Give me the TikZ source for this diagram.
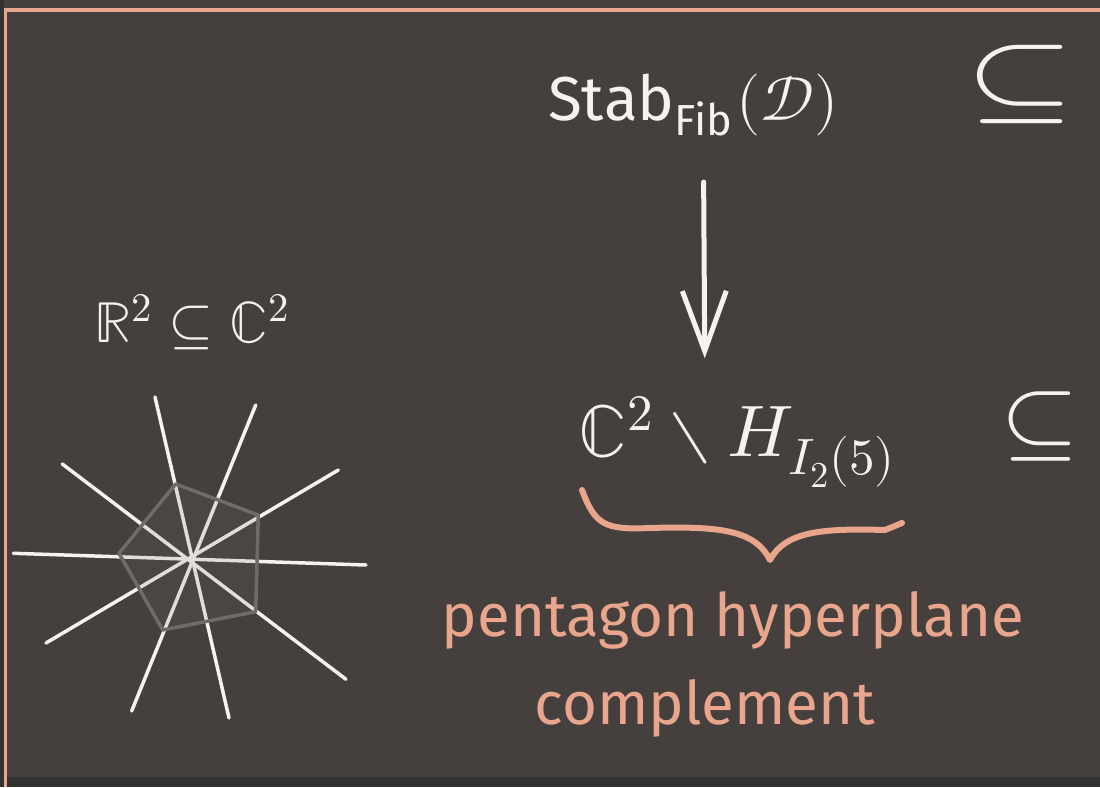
\documentclass[tikz,border=0pt]{standalone}
\usepackage{amsmath}
\usepackage{fontspec}
\usepackage{unicode-math}
\setmainfont{Fira Sans}
\setmathfont{Latin Modern Math}
\usetikzlibrary{arrows.meta,positioning}
\definecolor{board}{RGB}{69,64,61}
\definecolor{chalk}{RGB}{248,242,238}
\definecolor{salmon}{RGB}{233,166,140}
\definecolor{rimdark}{RGB}{50,50,50}
\definecolor{pentgray}{RGB}{111,107,105}
\tikzset{
  chalktext/.style={text=chalk, inner sep=0pt},
  chalkline/.style={draw=chalk, line width=5pt, line cap=round, line join=round},
  notetext/.style={text=salmon, inner sep=0pt, font=\fontsize{60}{66}\selectfont},
}

\begin{document}
\begin{tikzpicture}[x=1pt, y=-1pt]
  \useasboundingbox (0,0) rectangle (1100,787);
  \fill[board] (0,0) rectangle (1100,787);
  \fill[rimdark] (0,0) rectangle (4,787);
  \fill[rimdark] (6,777) rectangle (1100,787);
  \draw[salmon, line width=3.5pt] (5.5,787) -- (5.5,10) -- (1100,10);

  % real plane inside the complex plane
  \node[chalktext, font=\fontsize{58}{64}\selectfont] (plane) at (192,322) {$\mathbb{R}^2\subseteq\mathbb{C}^2$};
  \foreach \xa/\ya/\xb/\yb in {155/397/229/718, 255.7/405/131.7/711, 338.3/470/46/643,
                               366/565/13.3/553.3, 346/679.3/62.3/464}
    \draw[chalk, line width=3.5pt, line cap=round] (\xa,\ya) -- (\xb,\yb);
  \draw[pentgray, line width=3.5pt, line join=round, fill=pentgray, fill opacity=0.15]
    (175.7,484) -- (258.3,515) -- (255.7,611.7) -- (162.7,630) -- (119,553.3) -- cycle;

  % stability conditions and the hyperplane complement
  \node[chalktext, font=\fontsize{62}{68}\selectfont, anchor=base west] (stab) at (548,120) {Stab$_{\text{Fib}}\mkern1mu(\mathcal{D})$};
  \node[chalktext, font=\fontsize{104}{110}\selectfont] (incl1) at (1020,84) {\scalebox{1.35}[1]{$\subseteq$}};
  \node[chalktext, font=\fontsize{73}{80}\selectfont] (cpx) at (737,442) {$\mathbb{C}^2\setminus H_{I_2(5)}$};
  \node[chalktext, font=\fontsize{92}{98}\selectfont] (incl2) at (1040,426) {\scalebox{1.1}[1]{$\subseteq$}};
  \draw[chalkline, -{Straight Barb[length=60pt,width=44pt]}, shorten <=46pt, shorten >=38pt]
    ([xshift=10pt]stab.south) -- ([xshift=-32pt]cpx.north);

  \draw[salmon, line width=6pt, line cap=round, line join=round]
    (582,490) .. controls (595,525) and (605,530) .. (650,528)
    .. controls (720,526) and (755,530) .. (770,560)
    .. controls (785,532) and (820,528) .. (885,530) -- (902,523);
  \node[notetext] (note1) at (733,620) {pentagon hyperplane};
  \node[notetext, below=30pt of note1, xshift=-28pt] (note2) {complement};
\end{tikzpicture}
\end{document}
